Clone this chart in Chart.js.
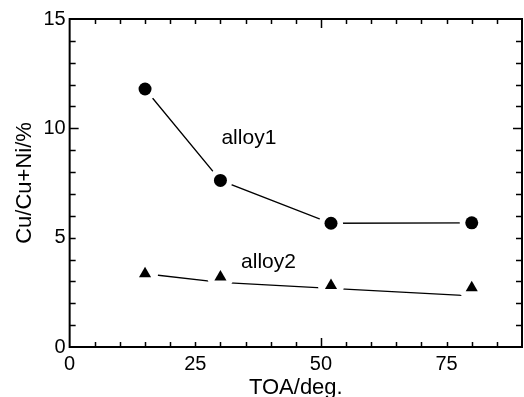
<!DOCTYPE html>
<html>
<head>
<meta charset="utf-8">
<script src="https://cdn.jsdelivr.net/npm/chart.js@4/dist/chart.umd.min.js"></script>
<style>
  html, body { margin: 0; padding: 0; background: #fff; }
  #wrap { width: 524px; height: 397px; }
</style>
</head>
<body>
<div id="wrap"><canvas id="chart"></canvas></div>
<script>
// values
const toa = [15, 30, 52, 80];
const alloy1 = [11.8, 7.62, 5.66, 5.68];
const alloy2 = [3.35, 3.2, 2.81, 2.71];
const alloy2Trend = [3.35, 2.96, 2.68, 2.34];   // hand drawn line sits a bit below the triangles
const xTickLabels = [0, 25, 50, 75];
const yTickLabels = [0, 5, 10, 15];
const seriesNames = ['alloy1', 'alloy2'];

const FONT = 'Liberation Sans, Arial, sans-serif';

function pts(xs, ys) {
    return xs.map((x, i) => ({ x: x, y: ys[i] }));
}

function lineSet(data, order) {
    return { data: data, showLine: true, borderColor: '#000', borderWidth: 1.3,
             pointRadius: 0, order: order };
}
function haloSet(data, r, order) {
    // white disc under each marker so the line stops short of it
    return { data: data, showLine: false, pointRadius: r, pointBackgroundColor: '#fff',
             pointBorderWidth: 0, order: order };
}
function markerSet(data, style, r, order) {
    return { data: data, showLine: false, pointStyle: style, pointRadius: r,
             pointBackgroundColor: '#000', pointBorderWidth: 0, order: order };
}

// inward ticks on all four sides plus the box
const frameTicks = {
    id: 'frameTicks',
    afterDatasetsDraw(chart) {
        const { ctx, chartArea: a, scales: { x, y } } = chart;
        ctx.save();
        ctx.strokeStyle = '#000';
        ctx.lineWidth = 1.5;
        ctx.beginPath();
        for (let v = 5; v < 90; v += 5) {
            const px = Math.round(x.getPixelForValue(v)) + 0.5;
            const len = v === 50 ? 9 : 5;
            ctx.moveTo(px, a.bottom); ctx.lineTo(px, a.bottom - len);
            ctx.moveTo(px, a.top); ctx.lineTo(px, a.top + len);
        }
        for (let v = 1; v < 15; v++) {
            const py = Math.round(y.getPixelForValue(v)) + 0.5;
            const len = v === 10 ? 9 : 6;
            ctx.moveTo(a.left, py); ctx.lineTo(a.left + len, py);
            ctx.moveTo(a.right, py); ctx.lineTo(a.right - len, py);
        }
        ctx.stroke();
        ctx.lineWidth = 2;
        ctx.strokeRect(a.left, a.top, a.right - a.left, a.bottom - a.top);

        // series names written inside the plot
        ctx.fillStyle = '#000';
        ctx.font = '21px ' + FONT;
        ctx.textBaseline = 'alphabetic';
        ctx.fillText(seriesNames[0], x.getPixelForValue(30.2), y.getPixelForValue(9.27));
        ctx.fillText(seriesNames[1], x.getPixelForValue(34.1), y.getPixelForValue(3.61));
        ctx.restore();
    }
};

const a1 = pts(toa, alloy1);
const a2 = pts(toa, alloy2);

new Chart(document.getElementById('chart'), {
    type: 'scatter',
    data: {
        datasets: [
            markerSet(a1, 'circle', 6.5, 1),
            haloSet(a1, 12, 2),
            lineSet(a1, 3),
            markerSet(a2, 'triangle', 7, 1),
            haloSet(a2, 13, 2),
            lineSet(pts(toa, alloy2Trend), 3)
        ]
    },
    options: {
        responsive: true,
        maintainAspectRatio: false,
        animation: false,
        layout: { autoPadding: false, padding: { top: 19, right: 2, left: 12, bottom: -3 } },
        plugins: { legend: { display: false }, tooltip: { enabled: false } },
        scales: {
            x: {
                type: 'linear', min: 0, max: 90,
                afterFit: s => { s.paddingRight = 0; },
                ticks: { stepSize: 25, color: '#000', font: { family: FONT, size: 20, lineHeight: 1 },
                         padding: 7, maxRotation: 0,
                         callback: v => xTickLabels.includes(v) ? String(v) : '' },
                grid: { display: false, drawTicks: false },
                border: { display: false },
                title: { display: true, text: 'TOA/deg.', color: '#000',
                         font: { family: FONT, size: 22, lineHeight: 1 }, padding: { top: -4, bottom: 1 } }
            },
            y: {
                type: 'linear', min: 0, max: 15,
                afterBuildTicks: s => { s.ticks = yTickLabels.map(v => ({ value: v })); },
                grid: { display: false, drawTicks: false },
                border: { display: false },
                ticks: { color: '#000', font: { family: FONT, size: 20 }, padding: 4 },
                title: { display: true, text: 'Cu/Cu+Ni/%', color: '#000',
                         font: { family: FONT, size: 22 }, padding: { top: 0, bottom: 1 } }
            }
        }
    },
    plugins: [frameTicks]
});
</script>
</body>
</html>
